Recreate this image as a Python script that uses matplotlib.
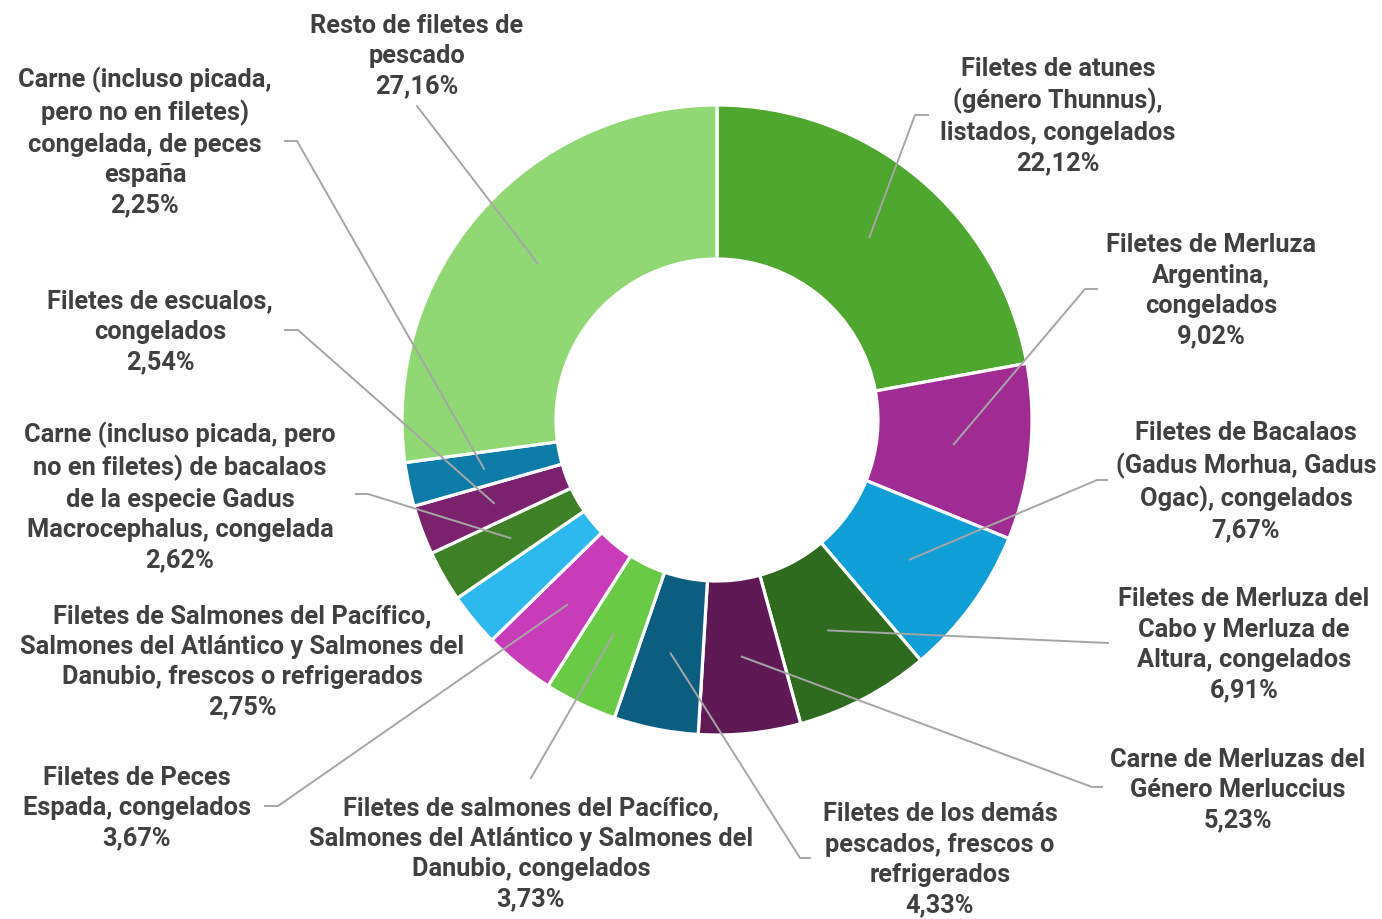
import numpy as np
import matplotlib.pyplot as plt

labels = [
    'Filetes de atunes\n(género Thunnus),\nlistados, congelados',
    'Filetes de Merluza\nArgentina,\ncongelados',
    'Filetes de Bacalaos\n(Gadus Morhua, Gadus\nOgac), congelados',
    'Filetes de Merluza del\nCabo y Merluza de\nAltura, congelados',
    'Carne de Merluzas del\nGénero Merluccius',
    'Filetes de los demás\npescados, frescos o\nrefrigerados',
    'Filetes de salmones del Pacífico,\nSalmones del Atlántico y Salmones del\nDanubio, congelados',
    'Filetes de Peces\nEspada, congelados',
    'Filetes de Salmones del Pacífico,\nSalmones del Atlántico y Salmones del\nDanubio, frescos o refrigerados',
    'Carne (incluso picada, pero\nno en filetes) de bacalaos\nde la especie Gadus\nMacrocephalus, congelada',
    'Filetes de escualos,\ncongelados',
    'Carne (incluso picada,\npero no en filetes)\ncongelada, de peces\nespaña',
    'Resto de filetes de\npescado',
]
shares = [22.12, 9.02, 7.67, 6.91, 5.23, 4.33, 3.73, 3.67, 2.75, 2.62, 2.54, 2.25, 27.16]
colors = ['#4EA72E', '#A02B93', '#0F9ED5', '#2E6B1F', '#5F1A55', '#0B5E80', '#69CB45',
          '#C83CBA', '#2EB9EE', '#3D8025', '#7B216E', '#0E7CA8', '#8FD873']

# label layout in pixel coords: text centre, elbow point, tail end (None = no leader)
label_pos = [(1058, 116), (1211, 291), (1246, 482), (1244, 645), (1238, 790), (940, 860),
             (531, 854), (137, 808), (242, 662), (180, 497), (160, 332), (145, 142), (417, 56)]
elbows = [(915, 115, 928), (1085, 289, 1097), (1097, 480, 1107), (1108, 643, 1108),
          (1092, 787, 1102), (800, 858, 810), (531, 778, 531), (278, 806, 265), None,
          (368, 494, 356), (298, 330, 285), (297, 141, 285), (417, 106, 417)]

W, H = 1382, 919
cx, cy, R, ring = 717, 420, 315, 154
txt_color = '#404040'
plt.rcParams['font.family'] = ['Roboto', 'DejaVu Sans']

fig = plt.figure(figsize=(W / 100, H / 100), dpi=100)
ax = fig.add_axes([0, 0, 1, 1])

wedges, _ = ax.pie(shares, colors=colors, center=(cx, -cy), radius=R, startangle=90,
                   counterclock=False, frame=True,
                   wedgeprops=dict(width=ring, edgecolor='white', linewidth=2.3))
ax.set_xlim(0, W)
ax.set_ylim(-H, 0)
ax.set_aspect('equal')
ax.axis('off')

for w, lab, val, (tx, ty), el in zip(wedges, labels, shares, label_pos, elbows):
    ang = np.deg2rad((w.theta1 + w.theta2) / 2)
    rm = R - ring / 2
    px, py = cx + rm * np.cos(ang), -cy + rm * np.sin(ang)
    if el is not None:
        ex, ey, tail = el
        ax.plot([px, ex, tail], [py, -ey, -ey], color='#A6A6A6', lw=1.4, zorder=3)
    ax.text(tx, -ty, lab + '\n' + f'{val:.2f}'.replace('.', ',') + '%', ha='center',
            va='center', fontsize=18.3, fontweight='bold', color=txt_color, linespacing=1.34)

fig.savefig('out.png', dpi=100)
